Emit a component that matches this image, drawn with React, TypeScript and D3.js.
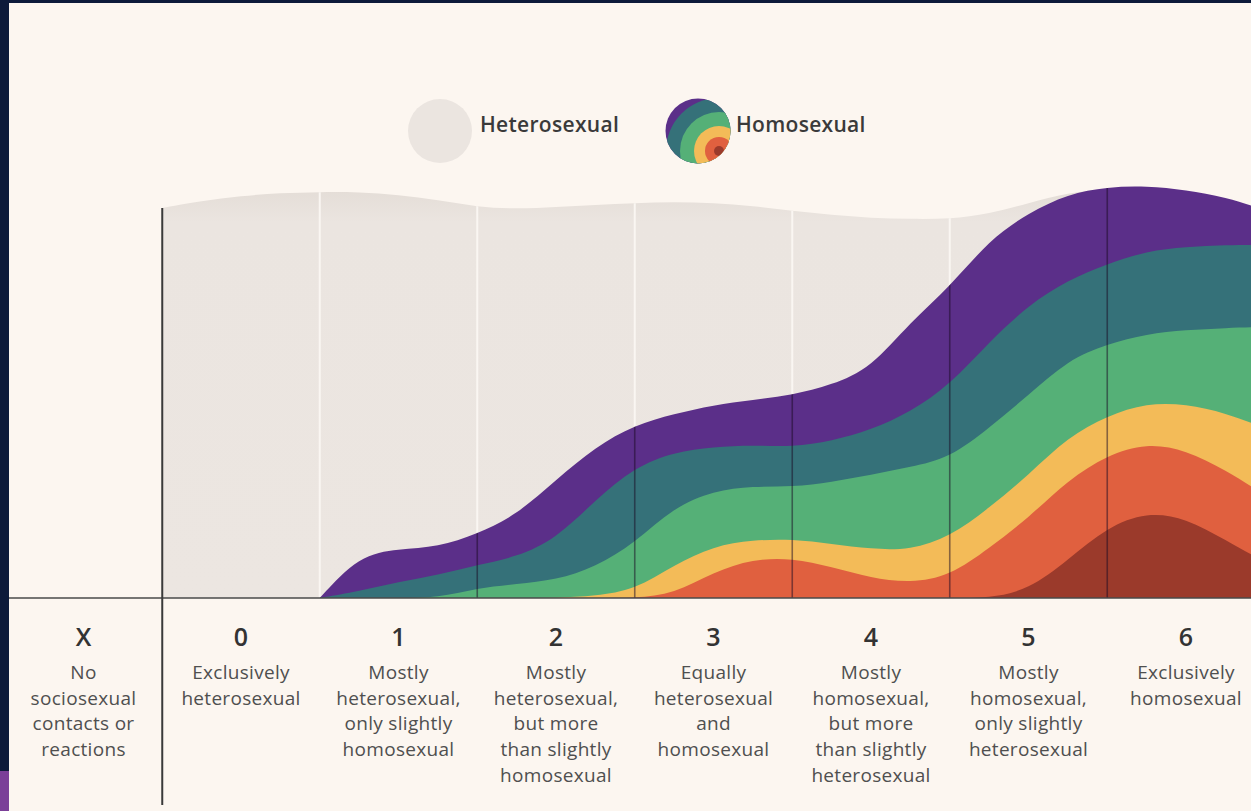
import React from "react";
import * as d3 from "d3";

// Kinsey scale columns
const categories = ["X", "0", "1", "2", "3", "4", "5", "6"];
const descriptions = [
  ["No", "sociosexual", "contacts or", "reactions"],
  ["Exclusively", "heterosexual"],
  ["Mostly", "heterosexual,", "only slightly", "homosexual"],
  ["Mostly", "heterosexual,", "but more", "than slightly", "homosexual"],
  ["Equally", "heterosexual", "and", "homosexual"],
  ["Mostly", "homosexual,", "but more", "than slightly", "heterosexual"],
  ["Mostly", "homosexual,", "only slightly", "heterosexual"],
  ["Exclusively", "homosexual"],
];
const legendLabels = ["Heterosexual", "Homosexual"];

// heterosexual background level along the scale
const heteroPositions = [
  -0.5, -0.25, 0, 0.25, 0.5, 0.75, 1, 1.25, 1.5, 1.75, 2, 2.25, 2.5, 2.75, 3,
  3.25, 3.5, 3.75, 4, 4.25, 4.5, 4.75, 5, 5.25, 5.5, 5.75, 6, 6.25, 6.5,
];
const heteroLevel = [
  390, 397, 402, 405, 406, 406, 403, 398, 391, 389, 391, 393, 395, 396, 395,
  392, 387, 383, 380, 379, 379, 384, 395, 405, 410, 405, 398, 388, 378,
];

// homosexual layers (thickness, bottom to top)
const homoPositions = [
  0.5, 0.75, 1, 1.25, 1.5, 1.75, 2, 2.25, 2.5, 2.75, 3, 3.25, 3.5, 3.75, 4,
  4.25, 4.5, 4.75, 5, 5.25, 5.5, 5.75, 6, 6.25, 6.5,
];
const darkRed = [0, 0, 0, 0, 0, 0, 0, 0, 0, 0, 0, 0, 0, 0, 0, 0, 0, 0, 8, 38, 71, 86, 80, 58, 36];
const red = [0, 0, 0, 0, 0, 0, 0, 0, 0, 4, 26, 39, 40, 31, 20, 15, 22, 50, 72, 80, 72, 69, 68, 70, 67];
const yellow = [0, 0, 0, 0, 0, 0, 0, 2, 8, 29, 26, 19, 19, 23, 29, 33, 39, 40, 43, 43, 39, 40, 46, 57, 67];
const green = [0, 0, 0, 0, 10, 14, 18, 29, 47, 58, 55, 54, 52, 62, 74, 83, 79, 80, 80, 77, 72, 69, 74, 85, 101];
const teal = [0, 7, 16, 23, 23, 27, 41, 67, 76, 55, 44, 41, 40, 41, 45, 55, 73, 86, 90, 80, 80, 83, 83, 83, 82];
const purple = [0, 36, 33, 28, 31, 42, 59, 53, 42, 38, 42, 45, 52, 56, 62, 90, 98, 102, 92, 86, 77, 65, 57, 48, 35];

const layerKeys = ["darkRed", "red", "yellow", "green", "teal", "purple"];
const layerValues = [darkRed, red, yellow, green, teal, purple];
const layerColors = ["#9b3a2b", "#e0603f", "#f3bb58", "#55b077", "#357179", "#5b2f89"];
// legend ring radii, inner to outer
const legendRings = [5, 14, 25, 39, 53, 90];

const W = 1251;
const H = 811;
const FONT = "'Open Sans', sans-serif";

export default function App() {
  const baseY = 598;
  const x = d3.scaleLinear().domain([0, 6]).range([241, 1186]);
  const y = d3.scaleLinear().domain([0, 412]).range([baseY, 186]);
  const labelX = d3.scalePoint().domain(categories).range([x(-1), x(6)]);

  const rows = homoPositions.map((k, i) => {
    const r: any = { k };
    layerKeys.forEach((key, j) => (r[key] = layerValues[j][i]));
    return r;
  });
  const stacked = d3.stack<any>().keys(layerKeys)(rows);

  const layerArea = d3
    .area<any>()
    .x((d) => x(d.data.k))
    .y0(y(0))
    .y1((d) => y(d[1]))
    .curve(d3.curveBasis);

  const heteroArea = d3
    .area<number>()
    .x((_, i) => x(heteroPositions[i]))
    .y0(y(0))
    .y1((d) => y(d))
    .curve(d3.curveBasis);

  const heteroPath = heteroArea(heteroLevel) || "";
  const homoPath = layerArea(stacked[stacked.length - 1]) || "";
  const dividers = d3.range(0.5, 6, 1);

  return (
    <div style={{ position: "absolute", left: 0, top: 0 }}>
      <svg width={W} height={H} style={{ display: "block" }}>
        <defs>
          <clipPath id="heteroClip">
            <path d={heteroPath} />
          </clipPath>
          <clipPath id="homoClip">
            <path d={homoPath} />
          </clipPath>
          <clipPath id="legendClip">
            <circle cx={698} cy={131} r={32.5} />
          </clipPath>
          <linearGradient id="heteroGrad" x1="0" y1="0" x2="0" y2="1">
            <stop offset="0" stopColor="#e4ddd7" />
            <stop offset="0.08" stopColor="#ebe5e0" />
            <stop offset="1" stopColor="#ece6e1" />
          </linearGradient>
        </defs>

        <rect width={W} height={H} fill="#fcf6f0" />

        {/* heterosexual background */}
        <path d={heteroPath} fill="url(#heteroGrad)" />
        <g clipPath="url(#heteroClip)">
          {dividers.map((k) => (
            <line key={k} x1={x(k)} x2={x(k)} y1={150} y2={baseY} stroke="#faf6f2" strokeWidth={2} />
          ))}
        </g>

        {/* homosexual layers, drawn top layer first */}
        {stacked
          .map((s, i) => ({ s, i }))
          .reverse()
          .map(({ s, i }) => (
            <path key={s.key} d={layerArea(s) || ""} fill={layerColors[i]} />
          ))}
        <g clipPath="url(#homoClip)">
          {dividers.map((k) => (
            <line key={k} x1={x(k)} x2={x(k)} y1={150} y2={baseY} stroke="rgba(25,10,35,0.5)" strokeWidth={1.6} />
          ))}
        </g>

        {/* axes */}
        <line x1={9} x2={W} y1={baseY} y2={baseY} stroke="#4a4a4a" strokeWidth={1.6} />
        <line x1={x(-0.5)} x2={x(-0.5)} y1={y(heteroLevel[0])} y2={805} stroke="#3a3a3a" strokeWidth={2} />

        {/* column labels */}
        {categories.map((c, i) => (
          <g key={c} transform={`translate(${labelX(c)},0)`} fontFamily={FONT} textAnchor="middle">
            <text y={646} fontSize={25} fontWeight={600} fill="#333">
              {c}
            </text>
            {descriptions[i].map((line, j) => (
              <text key={j} y={679 + j * 25.7} fontSize={19} fontWeight={500} fill="#4f4f4f" letterSpacing={0.3}>
                {line}
              </text>
            ))}
          </g>
        ))}

        {/* legend */}
        <circle cx={440} cy={131} r={32} fill="#ebe5e0" />
        <text x={480} y={132} fontFamily={FONT} fontSize={21} fontWeight={600} fill="#3a3a3a" letterSpacing={0.3}>
          {legendLabels[0]}
        </text>
        <g clipPath="url(#legendClip)">
          {legendRings
            .map((r, i) => ({ r, i }))
            .reverse()
            .map(({ r, i }) => (
              <circle key={i} cx={719} cy={151} r={r} fill={layerColors[i]} />
            ))}
        </g>
        <text x={736} y={132} fontFamily={FONT} fontSize={21} fontWeight={600} fill="#3a3a3a" letterSpacing={0.3}>
          {legendLabels[1]}
        </text>

        {/* page frame */}
        <rect x={0} y={0} width={W} height={3} fill="#0d1a3a" />
        <rect x={0} y={0} width={9} height={H} fill="#0d1a3a" />
        <rect x={0} y={771} width={9} height={H - 771} fill="#7b3f98" />
      </svg>
    </div>
  );
}
